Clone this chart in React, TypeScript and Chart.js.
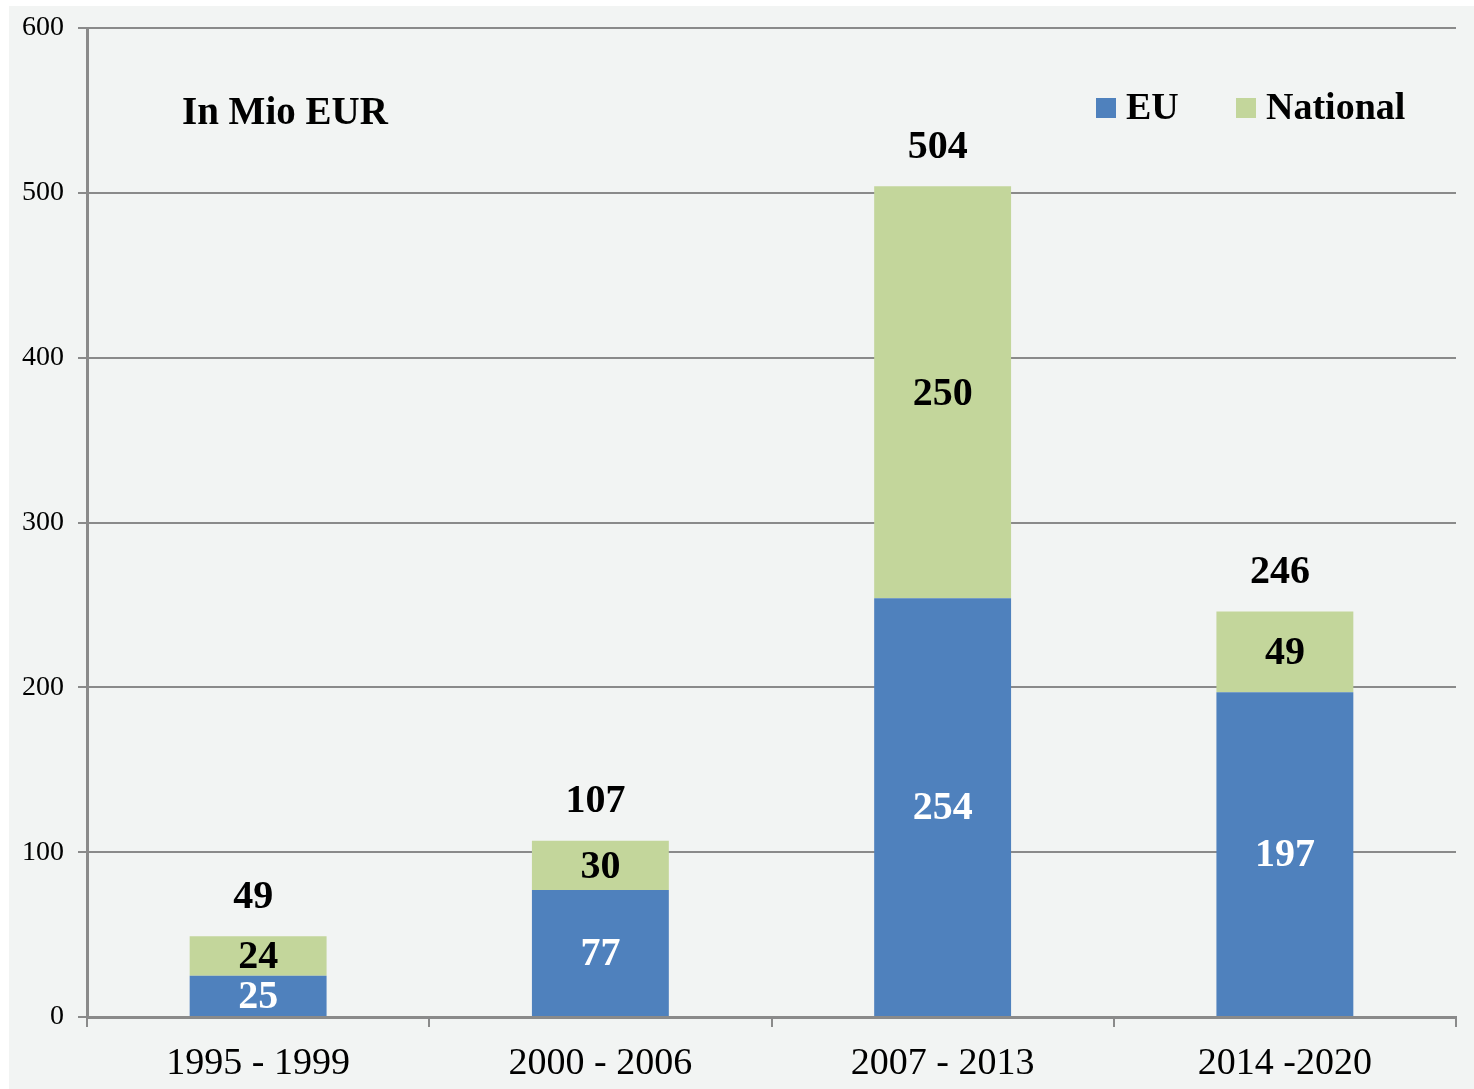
import React, { useEffect, useRef } from "react";
import { Chart, registerables } from "chart.js";

Chart.register(...registerables);

const categories = ["1995 - 1999", "2000 - 2006", "2007 - 2013", "2014 -2020"];
const euValues = [25, 77, 254, 197];
const nationalValues = [24, 30, 250, 49];
const totals = [49, 107, 504, 246];
const yTicks = [0, 100, 200, 300, 400, 500, 600];

const EU_COLOR = "#4f81bd";
const NAT_COLOR = "#c3d69b";
const GRID = "#8a8a8a";
const SERIF = "'Liberation Serif', 'Times New Roman', serif";

const labelsPlugin = {
  id: "customLabels",
  beforeDraw(chart: any) {
    const { ctx, width, height } = chart;
    ctx.save();
    ctx.fillStyle = "#f2f4f3";
    ctx.fillRect(0, 0, width, height);
    ctx.restore();
  },
  afterDatasetsDraw(chart: any) {
    const { ctx } = chart;
    ctx.save();
    ctx.textAlign = "center";
    ctx.textBaseline = "middle";
    ctx.font = `bold 40px ${SERIF}`;
    chart.data.datasets.forEach((ds: any, di: number) => {
      const meta = chart.getDatasetMeta(di);
      meta.data.forEach((bar: any, i: number) => {
        const y = (bar.y + bar.base) / 2;
        ctx.fillStyle = di === 0 ? "#ffffff" : "#000000";
        ctx.fillText(String(ds.data[i]), bar.x, y + 2);
      });
    });
    const topMeta = chart.getDatasetMeta(1);
    topMeta.data.forEach((bar: any, i: number) => {
      ctx.fillStyle = "#000000";
      ctx.fillText(String(totals[i]), bar.x - 5, bar.y - 39);
    });
    // title
    ctx.textAlign = "left";
    ctx.font = `bold 39px ${SERIF}`;
    ctx.fillText("In Mio EUR", 173, 108);
    // legend
    ctx.font = `bold 38px ${SERIF}`;
    const items = [
      { label: "EU", color: EU_COLOR, x: 1087 },
      { label: "National", color: NAT_COLOR, x: 1227 },
    ];
    items.forEach((it) => {
      ctx.fillStyle = it.color;
      ctx.fillRect(it.x, 92, 20, 20);
      ctx.fillStyle = "#000000";
      ctx.fillText(it.label, it.x + 30, 103);
    });
    ctx.restore();
  },
};

export default function App() {
  const canvasRef = useRef<HTMLCanvasElement | null>(null);

  useEffect(() => {
    document.body.style.margin = "0";
    const canvas = canvasRef.current;
    if (!canvas) return;
    const chart = new Chart(canvas, {
      type: "bar",
      data: {
        labels: categories,
        datasets: [
          {
            label: "EU",
            data: euValues,
            backgroundColor: EU_COLOR,
            barPercentage: 0.4,
            categoryPercentage: 1,
          },
          {
            label: "National",
            data: nationalValues,
            backgroundColor: NAT_COLOR,
            barPercentage: 0.4,
            categoryPercentage: 1,
          },
        ],
      },
      options: {
        responsive: false,
        animation: false,
        maintainAspectRatio: false,
        layout: { padding: { top: 22, right: 18, left: 0, bottom: 0 } },
        plugins: {
          legend: { display: false },
          tooltip: { enabled: false },
        },
        scales: {
          x: {
            stacked: true,
            afterFit: (s: any) => {
              s.height = 72;
              s.paddingLeft = 0;
              s.paddingRight = 0;
            },
            grid: {
              display: true,
              offset: true,
              drawOnChartArea: false,
              drawTicks: true,
              tickLength: 10,
              color: GRID,
              lineWidth: 2,
            },
            border: { display: true, color: GRID, width: 3 },
            ticks: {
              color: "#000000",
              font: { family: SERIF, size: 38 },
              padding: 14,
            },
          },
          y: {
            stacked: true,
            min: 0,
            max: 600,
            afterFit: (s: any) => {
              s.width = 78;
              s.paddingTop = 0;
              s.paddingBottom = 0;
            },
            afterBuildTicks: (s: any) => {
              s.ticks = yTicks.map((v) => ({ value: v }));
            },
            grid: {
              color: GRID,
              lineWidth: 2,
              drawTicks: true,
              tickLength: 9,
            },
            border: { display: true, color: GRID, width: 3 },
            ticks: {
              color: "#000000",
              font: { family: SERIF, size: 28 },
              padding: 14,
            },
          },
        },
      },
      plugins: [labelsPlugin],
    });
    return () => chart.destroy();
  }, []);

  return (
    <div style={{ position: "relative", width: 1474, height: 1089, background: "#ffffff", overflow: "hidden" }}>
      <canvas
        ref={canvasRef}
        width={1465}
        height={1083}
        style={{ position: "absolute", left: 9, top: 6, width: 1465, height: 1083 }}
      />
    </div>
  );
}
